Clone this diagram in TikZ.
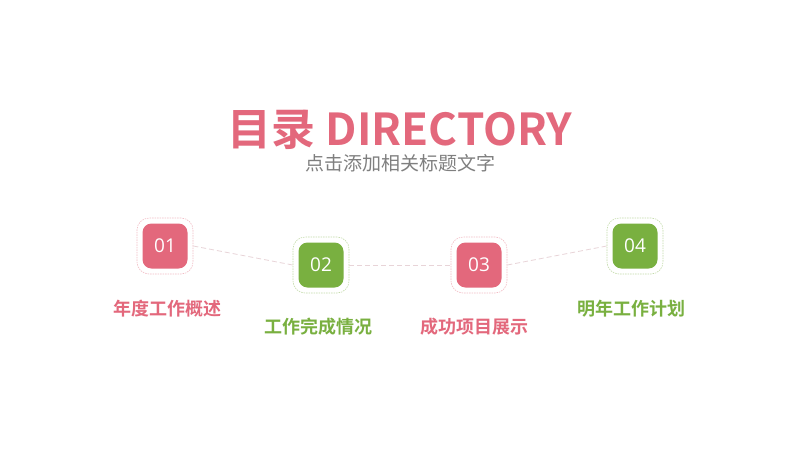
\documentclass[tikz,border=0pt]{standalone}
\usepackage{fontspec}
\setmainfont{Noto Sans}
\newfontfamily\cjk{Noto Sans CJK SC}
\newfontfamily\cjkb{Noto Sans CJK SC Bold}
\newfontfamily\numfont{Open Sans}
\definecolor{pinkc}{HTML}{E3687C}
\definecolor{greenc}{HTML}{79B040}
\definecolor{linec}{HTML}{E8D4D8}
\definecolor{grayc}{HTML}{7F7F7F}
\tikzset{
  numbox/.style={rounded corners=9pt, minimum width=45pt, minimum height=45pt, text=white, font=\numfont\fontsize{19}{19}\selectfont, inner sep=0pt},
  ringbox/.style={draw, dashed, dash pattern=on 1.5pt off 1pt, line width=0.6pt, rounded corners=12pt, minimum width=56pt, minimum height=56pt, inner sep=0pt},
  lbl/.style={font=\cjkb\fontsize{18}{18}\selectfont, inner sep=0pt},
  conn/.style={draw=linec, dashed, dash pattern=on 5pt off 3pt, line width=0.8pt}
}
\begin{document}
\begin{tikzpicture}[x=1pt,y=-1pt]
\useasboundingbox[fill=white] (0,0) rectangle (800,450);
% rings
\node[ringbox, draw=pinkc!45] (r1) at (165,246) {};
\node[ringbox, draw=greenc!45] (r2) at (321,265) {};
\node[ringbox, draw=pinkc!45] (r3) at (479,265) {};
\node[ringbox, draw=greenc!45] (r4) at (635,246) {};
% connectors
\draw[conn] (r1.east) -- (r2.west);
\draw[conn] (r2.east) -- (r3.west);
\draw[conn] (r3.east) -- (r4.west);
% boxes
\node[numbox, fill=pinkc] (b1) at (r1) {01};
\node[numbox, fill=greenc] (b2) at (r2) {02};
\node[numbox, fill=pinkc] (b3) at (r3) {03};
\node[numbox, fill=greenc] (b4) at (r4) {04};
% title
\node[text=pinkc, inner sep=0pt] (title) at (400,130) {\cjkb\fontsize{44}{44}\selectfont 目录 DIRECTORY};
\node[text=grayc, inner sep=0pt] (sub) at (400,163) {\cjk\fontsize{19}{19}\selectfont 点击添加相关标题文字};
% labels
\node[lbl, text=pinkc] (l1) at (167,309) {年度工作概述};
\node[lbl, text=greenc] (l2) at (318,327) {工作完成情况};
\node[lbl, text=pinkc] (l3) at (474,327) {成功项目展示};
\node[lbl, text=greenc] (l4) at (631,309) {明年工作计划};
\end{tikzpicture}
\end{document}
